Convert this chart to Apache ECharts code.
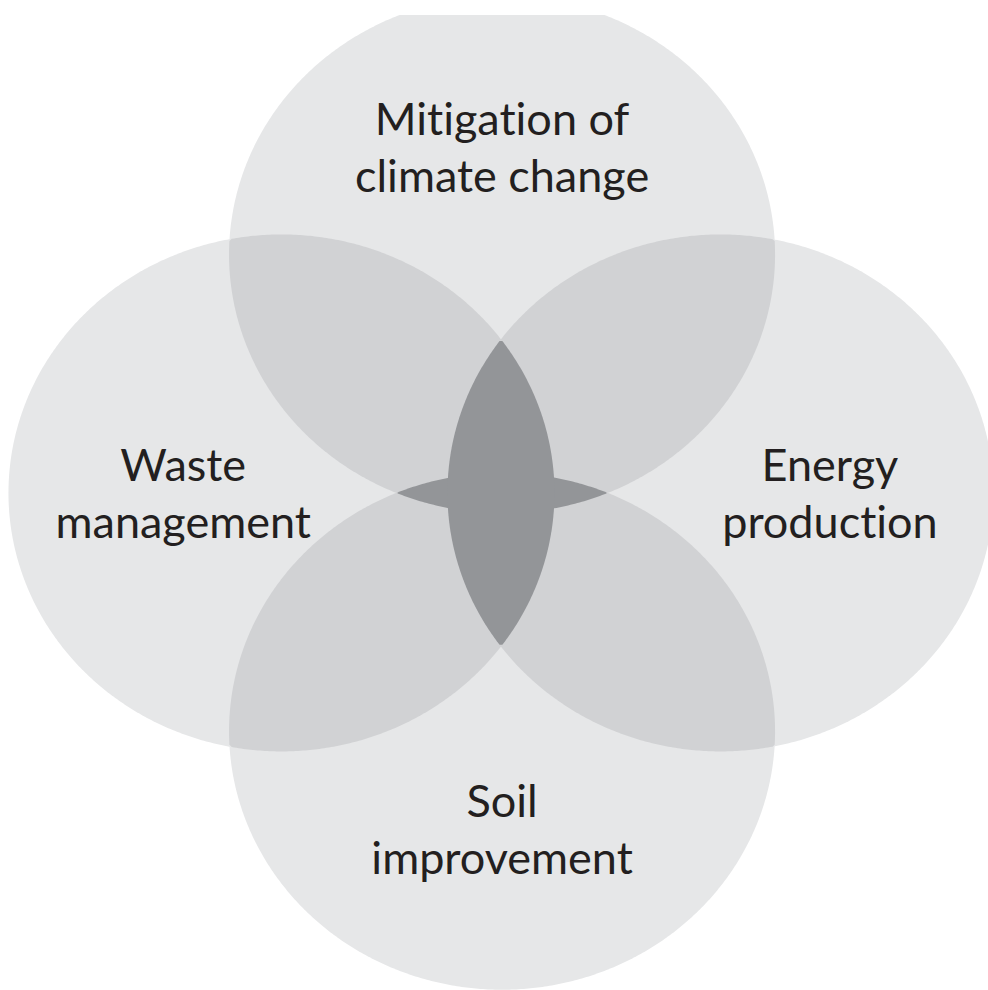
<!DOCTYPE html>
<html>
<head>
<meta charset="utf-8">
<script src="https://cdn.jsdelivr.net/npm/echarts@6/dist/echarts.min.js"></script>
<style>
html, body { margin: 0; background: #fff; }
#chart { width: 988px; height: 990px; }
#chart text { font-variant-ligatures: none !important; font-feature-settings: "liga" 0, "clig" 0 !important; }
</style>
</head>
<body>
<div id="chart"></div>
<script>
// the four sets, unit circles in data space (the grid stretches them a bit)
var setNames = ['Mitigation of\nclimate change', 'Energy\nproduction', 'Soil\nimprovement', 'Waste\nmanagement'];
var centerX = [0, 0.80, 0, -0.808];
var centerY = [0.922, 0, -0.922, 0];
var radius = [1, 1, 1, 1];
var labelX = [0, 1.201, 0, -1.168];
var labelY = [1.340, 0, -1.30, 0];
// neighbouring sets overlap in mid grey, opposite ones in dark grey
var sidePairs = [[0, 1], [1, 2], [2, 3], [3, 0]];
var crossPairs = [[0, 2], [1, 3]];

var STEPS = 720;

function ellipseOf(i, api) {
    var c = api.coord([centerX[i], centerY[i]]);
    var s = api.size([radius[i], radius[i]]);
    return { cx: c[0], cy: c[1], rx: s[0], ry: s[1] };
}

function outline(e) {
    var pts = [];
    for (var k = 0; k < STEPS; k++) {
        var t = k / STEPS * Math.PI * 2;
        pts.push([e.cx + e.rx * Math.cos(t), e.cy + e.ry * Math.sin(t)]);
    }
    return pts;
}

function inside(p, e) {
    var dx = (p[0] - e.cx) / e.rx, dy = (p[1] - e.cy) / e.ry;
    return dx * dx + dy * dy <= 1;
}

// overlap of two convex shapes: boundary points of each lying in the other, sorted round the middle
function overlap(i, j, api) {
    var a = ellipseOf(i, api), b = ellipseOf(j, api);
    var pts = outline(a).filter(function (p) { return inside(p, b); })
        .concat(outline(b).filter(function (p) { return inside(p, a); }));
    var mx = 0, my = 0;
    pts.forEach(function (p) { mx += p[0]; my += p[1]; });
    mx /= pts.length; my /= pts.length;
    pts.sort(function (p, q) {
        return Math.atan2(p[1] - my, p[0] - mx) - Math.atan2(q[1] - my, q[0] - mx);
    });
    return pts;
}

function pairSeries(pairs, color) {
    return {
        type: 'custom',
        coordinateSystem: 'cartesian2d',
        clip: true,
        silent: true,
        data: pairs.map(function (p, k) { return [k]; }),
        renderItem: function (params, api) {
            var p = pairs[params.dataIndex];
            return {
                type: 'polygon',
                shape: { points: overlap(p[0], p[1], api) },
                style: { fill: color }
            };
        }
    };
}

var chart = echarts.init(document.getElementById('chart'), null, { renderer: 'svg' });

chart.setOption({
    animation: false,
    grid: { left: 0, right: 0, top: 15, bottom: 0 },
    xAxis: { type: 'value', min: -1.839, max: 1.780, show: false },
    yAxis: { type: 'value', min: -1.923, max: 1.849, show: false },
    series: [
        {
            type: 'custom',
            coordinateSystem: 'cartesian2d',
            clip: true,
            silent: true,
            data: setNames.map(function (n, i) { return [centerX[i], centerY[i]]; }),
            renderItem: function (params, api) {
                return {
                    type: 'polygon',
                    shape: { points: outline(ellipseOf(params.dataIndex, api)) },
                    style: { fill: '#e6e7e8' }
                };
            }
        },
        pairSeries(sidePairs, '#d1d2d4'),
        pairSeries(crossPairs, '#939598'),
        {
            type: 'custom',
            coordinateSystem: 'cartesian2d',
            silent: true,
            data: setNames.map(function (n, i) { return [labelX[i], labelY[i]]; }),
            renderItem: function (params, api) {
                var p = api.coord([labelX[params.dataIndex], labelY[params.dataIndex]]);
                return {
                    type: 'text',
                    x: p[0],
                    y: p[1],
                    style: {
                        text: setNames[params.dataIndex],
                        fill: '#231f20',
                        font: '45px Lato',
                        lineHeight: 57,
                        align: 'center',
                        verticalAlign: 'middle'
                    }
                };
            }
        }
    ]
});
</script>
</body>
</html>
